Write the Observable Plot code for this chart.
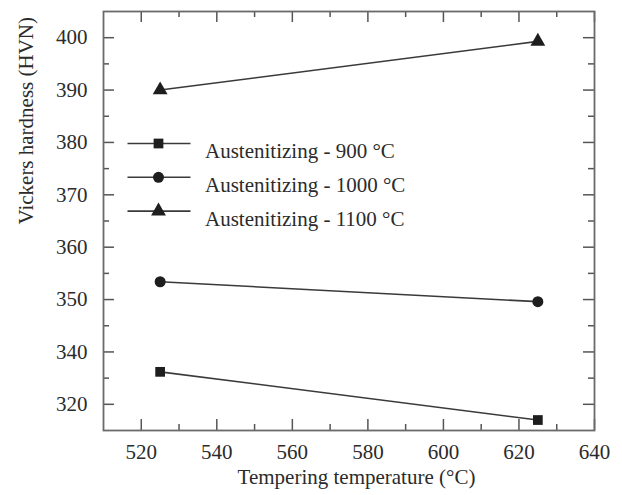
<!DOCTYPE html>
<html>
<head>
<meta charset="utf-8">
<script src="https://cdn.jsdelivr.net/npm/d3@7"></script>
<script src="https://cdn.jsdelivr.net/npm/@observablehq/plot@0.6"></script>
<style>
  html, body { margin: 0; padding: 0; background: #fff; }
</style>
</head>
<body>
<div id="chart"></div>
<script>
// ---- data ----
const seriesNames = ["Austenitizing - 900 °C", "Austenitizing - 1000 °C", "Austenitizing - 1100 °C"];
const seriesSymbols = ["square", "circle", "triangle"];
const temperatures = [525, 625];
const hv900 = [336.2, 327.0];
const hv1000 = [353.4, 349.6];
const hv1100 = [390.0, 399.3];

const xTicks = [520, 540, 560, 580, 600, 620, 640];
const xMinorTicks = [530, 550, 570, 590, 610, 630];
const yTickValues = [330, 340, 350, 360, 370, 380, 390, 400];
const yTickLabels = ["320", "340", "350", "360", "370", "380", "390", "400"];
const yMinorTicks = [335, 345, 355, 365, 375, 385, 395];

const xTitle = "Tempering temperature (°C)";
const yTitle = "Vickers hardness (HVN)";

// ---- build table ----
const hardness = [hv900, hv1000, hv1100];
const table = seriesNames.flatMap((s, i) =>
  temperatures.map((t, j) => ({series: s, temp: t, hv: hardness[i][j]}))
);

// ---- layout / style ----
const W = 622, H = 495;
const mL = 103, mR = 28, mT = 11, mB = 65;
const fw = W - mL - mR, fh = H - mT - mB;
const font = "'Liberation Serif', 'Times New Roman', Times, serif";
const textColor = "#2b2b2b";
const tickColor = "#555";
const majorLen = 11, minorLen = 6;

const legendLine = {
  draw(ctx) { ctx.moveTo(-31.5, 0); ctx.lineTo(31.5, 0); }
};
const legendTop = 132, legendGap = 33.8;

const legendMarks = seriesNames.flatMap((s, i) => [
  Plot.dot([s], {frameAnchor: "top-left", dx: 55.5, dy: legendTop + i * legendGap,
    symbol: legendLine, r: 5, fill: "none", stroke: "#3a3a3a", strokeWidth: 1.6}),
  Plot.dot([s], {frameAnchor: "top-left", dx: 55, dy: legendTop + i * legendGap,
    symbol: seriesSymbols[i], r: 5.5, fill: "#1e1e1e", stroke: "none"}),
  Plot.text([s], {frameAnchor: "top-left", dx: 101.5, dy: legendTop + i * legendGap,
    text: d => d, textAnchor: "start", fontSize: 21, fill: textColor})
]);

const chart = Plot.plot({
  width: W, height: H,
  marginLeft: mL, marginRight: mR, marginTop: mT, marginBottom: mB,
  style: {fontFamily: font, fontSize: "21px", color: textColor, background: "#fff"},
  x: {domain: [510, 640]},
  y: {domain: [325, 405]},
  symbol: {domain: seriesNames, range: seriesSymbols},
  marks: [
    // ticks (inward, all four sides)
    Plot.tickX(xTicks, {x: d => d, insetTop: fh - majorLen, stroke: tickColor, strokeWidth: 1.5}),
    Plot.tickX(xTicks, {x: d => d, insetBottom: fh - majorLen, stroke: tickColor, strokeWidth: 1.5}),
    Plot.tickX(xMinorTicks, {x: d => d, insetTop: fh - minorLen, stroke: tickColor, strokeWidth: 1.5}),
    Plot.tickX(xMinorTicks, {x: d => d, insetBottom: fh - minorLen, stroke: tickColor, strokeWidth: 1.5}),
    Plot.tickY(yTickValues, {y: d => d, insetRight: fw - majorLen, stroke: tickColor, strokeWidth: 1.5}),
    Plot.tickY(yTickValues, {y: d => d, insetLeft: fw - majorLen, stroke: tickColor, strokeWidth: 1.5}),
    Plot.tickY(yMinorTicks, {y: d => d, insetRight: fw - minorLen, stroke: tickColor, strokeWidth: 1.5}),
    Plot.tickY(yMinorTicks, {y: d => d, insetLeft: fw - minorLen, stroke: tickColor, strokeWidth: 1.5}),
    // axis labels
    Plot.axisX({ticks: xTicks, tickSize: 0, tickPadding: 14, label: null, fontSize: 21, fill: textColor}),
    Plot.axisY({ticks: yTickValues, tickSize: 0, tickPadding: 16, label: null, fontSize: 21, fill: textColor,
      tickFormat: d => yTickLabels[yTickValues.indexOf(d)]}),
    // titles
    Plot.text([xTitle], {frameAnchor: "bottom", dx: 7.5, dy: 53, text: d => d, fontSize: 21, fill: textColor}),
    Plot.text([yTitle], {frameAnchor: "left", dx: -77, dy: 3.5, rotate: -90, text: d => d, fontSize: 21, fill: textColor}),
    // data
    Plot.line(table, {x: "temp", y: "hv", z: "series", stroke: "#3a3a3a", strokeWidth: 1.6}),
    Plot.dot(table, {x: "temp", y: "hv", symbol: "series", r: 5.5, fill: "#1e1e1e", stroke: "none"}),
    // legend
    ...legendMarks,
    // frame
    Plot.frame({stroke: "#6a6a6a", strokeWidth: 1.8})
  ]
});

document.getElementById("chart").appendChild(chart);
</script>
</body>
</html>
